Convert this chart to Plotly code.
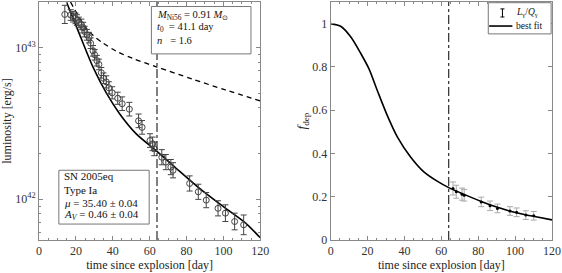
import numpy as np
import plotly.graph_objects as go

# ---------------- data ----------------
# left panel: observed bolometric luminosity (log10 erg/s)
t_obs = [14.0, 17.2, 18.5, 19.8, 20.6, 21.6, 23.0, 23.9, 24.8, 26.0, 27.1, 28.0,
         29.3, 30.2, 31.4, 32.5, 33.8, 35.0, 36.5, 37.9, 39.7, 42.7, 45.1, 49.0,
         54.0, 55.9, 60.2, 61.6, 62.5, 66.6, 68.8, 71.5, 72.7, 81.7, 86.4, 90.7,
         97.1, 101.1, 106.1, 111.0]
logL_obs = [43.218, 43.214, 43.203, 43.192, 43.181, 43.165, 43.152, 43.131, 43.105,
            43.083, 43.065, 43.028, 42.978, 42.952, 42.913, 42.888, 42.833, 42.797,
            42.773, 42.734, 42.701, 42.665, 42.629, 42.593, 42.516, 42.473, 42.386,
            42.364, 42.331, 42.276, 42.244, 42.211, 42.190, 42.103, 42.048, 41.993,
            41.939, 41.907, 41.852, 41.830]
logL_err = [0.06, 0.035, 0.035, 0.035, 0.035, 0.035, 0.035, 0.035, 0.035, 0.035,
            0.035, 0.035, 0.035, 0.035, 0.035, 0.035, 0.035, 0.035, 0.04, 0.04,
            0.04, 0.04, 0.045, 0.045, 0.045, 0.045, 0.045, 0.045, 0.045, 0.05,
            0.05, 0.05, 0.05, 0.05, 0.05, 0.05, 0.05, 0.055, 0.055, 0.065]

# left panel: best-fit luminosity (solid) and total deposition Q (dashed)
t_fit = [14.9, 22.1, 29.3, 36.5, 43.6, 52.6, 64.0, 74.2, 86.7, 101.1, 111.9, 120.0]
logL_fit = [43.30, 43.083, 42.870, 42.700, 42.565, 42.432, 42.315, 42.205, 42.074,
            41.940, 41.843, 41.745]
t_q = [17.1, 24.8, 29.3, 34.6, 41.9, 50.8, 64.0, 83.1, 101.1, 120.0]
logL_q = [43.30, 43.14, 43.08, 43.03, 42.975, 42.928, 42.871, 42.792, 42.720, 42.648]

# right panel: deposition fraction
t_fdep = [66.3, 68.1, 71.2, 72.4, 81.6, 86.4, 90.4, 97.2, 100.8, 105.8, 110.1]
fdep = [0.238, 0.223, 0.212, 0.207, 0.176, 0.158, 0.146, 0.134, 0.128, 0.115, 0.112]
fdep_err = [0.03, 0.03, 0.028, 0.027, 0.022, 0.022, 0.02, 0.02, 0.02, 0.02, 0.02]
t_fcurve = [0, 5.6, 10.9, 16.3, 20.8, 25.3, 30.7, 36.1, 43.3, 50.5, 57.7, 64.0,
            72.0, 82.0, 90.0, 97.0, 105.0, 112.0, 120.0]
fcurve = [1.0, 0.987, 0.938, 0.862, 0.790, 0.690, 0.575, 0.477, 0.384, 0.315, 0.272,
          0.242, 0.212, 0.177, 0.152, 0.134, 0.118, 0.106, 0.093]

t_cut = 64.0

param_lines = ["<i>M</i><sub>Ni56</sub> = 0.91 <i>M</i><sub>⊙</sub>",
               "<i>t</i><sub>0</sub>  = 41.1 day",
               "<i>n</i>   = 1.6"]
info_lines = ["SN 2005eq", "Type Ia",
              "<i>μ</i> = 35.40 ± 0.04",
              "<i>A<sub>V</sub></i> = 0.46 ± 0.04"]
legend_names = ["<i>L</i><sub>γ</sub>/<i>Q</i><sub>γ</sub>", "best fit"]

# ---------------- figure ----------------
FONT = "Liberation Serif"
L = 10 ** np.array(logL_obs)
e = np.array(logL_err)

fig = go.Figure()

fig.add_trace(go.Scatter(
    x=t_q, y=10 ** np.array(logL_q), mode="lines", line_shape="spline",
    line=dict(color="black", width=1.3, dash="5px,4px", smoothing=0.8), showlegend=False,
    xaxis="x", yaxis="y"))
fig.add_trace(go.Scatter(
    x=t_fit, y=10 ** np.array(logL_fit), mode="lines", line_shape="spline",
    line=dict(color="black", width=1.6, smoothing=0.8), showlegend=False,
    xaxis="x", yaxis="y"))
fig.add_trace(go.Scatter(
    x=t_obs, y=L, mode="markers",
    marker=dict(symbol="circle-open", size=6, color="#444", line=dict(width=1)),
    error_y=dict(type="data", symmetric=False, array=L * (10 ** e - 1),
                 arrayminus=L * (1 - 10 ** (-e)), color="#444", thickness=1, width=3),
    showlegend=False, xaxis="x", yaxis="y"))

# right panel
fig.add_trace(go.Scatter(
    x=t_fdep, y=fdep, mode="markers",
    marker=dict(symbol="circle", size=3, color="black"),
    error_y=dict(type="data", array=fdep_err, color="#aaa", thickness=1, width=3),
    name=legend_names[0], showlegend=False, xaxis="x2", yaxis="y2"))
fig.add_trace(go.Scatter(
    x=t_fcurve, y=fcurve, mode="lines", line_shape="spline",
    line=dict(color="black", width=1.6, smoothing=0.8), name=legend_names[1],
    showlegend=False, xaxis="x2", yaxis="y2"))

axis_common = dict(showline=True, linecolor="#888", linewidth=1, mirror="ticks",
                   ticks="inside", ticklen=4, tickcolor="#888", showgrid=False,
                   zeroline=False, tickfont=dict(family=FONT, size=12, color="#333"))

minor_log = [float(m) * 10.0 ** p for p in (41, 42, 43) for m in range(2, 10)]
xticks = [0, 20, 40, 60, 80, 100, 120]
title_font = dict(family=FONT, size=12, color="#222")
fig.update_layout(
    width=562, height=273,
    margin=dict(l=39, r=6, t=1, b=33),
    paper_bgcolor="white", plot_bgcolor="white",
    font=dict(family=FONT, size=12, color="#222"),
    showlegend=False,
    xaxis=dict(domain=[0, 0.4313], range=[0, 120], tickvals=xticks,
               minor=dict(dtick=5, ticks="inside", ticklen=2, tickcolor="#888"),
               title=dict(text="time since explosion [day]", standoff=3, font=title_font),
               **axis_common),
    yaxis=dict(type="log", range=[41.73, 43.30], tickvals=[1e42, 1e43],
               ticktext=["10<sup>42</sup>", "10<sup>43</sup>"],
               minor=dict(tickvals=minor_log, ticks="inside", ticklen=2, tickcolor="#888"),
               title=dict(text="luminosity [erg/s]", standoff=2, font=title_font),
               **axis_common),
    xaxis2=dict(domain=[0.5687, 1], range=[0, 120], tickvals=xticks, anchor="y2",
                minor=dict(dtick=5, ticks="inside", ticklen=2, tickcolor="#888"),
                title=dict(text="time since explosion [day]", standoff=3, font=title_font),
                **axis_common),
    yaxis2=dict(range=[0, 1.1], tickvals=[0, 0.2, 0.4, 0.6, 0.8, 1],
                ticktext=["0", "0.2", "0.4", "0.6", "0.8", "1"], anchor="x2",
                title=dict(text="<i>f</i><sub>dep</sub>", standoff=2,
                           font=dict(family=FONT, size=13, color="#222")),
                **axis_common),
)

# vertical dash-dot lines
for xr, yr in (("x", "y domain"), ("x2", "y2 domain")):
    fig.add_shape(type="line", xref=xr, yref=yr, x0=t_cut, x1=t_cut, y0=0, y1=1,
                  line=dict(color="black", width=1, dash="dashdot"))

# parameter box (top right of left panel)
fig.add_shape(type="rect", xref="x domain", yref="y domain",
              x0=0.508, x1=0.958, y0=0.782, y1=0.981,
              line=dict(color="#777", width=1), fillcolor="white", layer="above")
for txt, yy in zip(param_lines, [0.944, 0.891, 0.840]):
    fig.add_annotation(xref="x domain", yref="y domain", x=0.526, y=yy,
                       text=txt, showarrow=False, xanchor="left", yanchor="middle",
                       font=dict(family=FONT, size=10.5, color="#111"))

# SN info box (bottom left of left panel)
fig.add_shape(type="rect", xref="x domain", yref="y domain",
              x0=0.0897, x1=0.498, y0=0.067, y1=0.293,
              line=dict(color="#777", width=1), fillcolor="white", layer="above")
for txt, yy in zip(info_lines, [0.268, 0.212, 0.156, 0.106]):
    fig.add_annotation(xref="x domain", yref="y domain", x=0.105, y=yy,
                       text=txt, showarrow=False, xanchor="left", yanchor="middle",
                       font=dict(family=FONT, size=11, color="#111"))

# legend of the right panel
fig.add_shape(type="rect", xref="x2 domain", yref="y2 domain",
              x0=0.712, x1=0.996, y0=0.866, y1=0.997,
              line=dict(color="#777", width=1), fillcolor="white", layer="above")
fig.add_shape(type="line", xref="x2 domain", yref="y2 domain",
              x0=0.776, x1=0.776, y0=0.937, y1=0.971,
              line=dict(color="black", width=1), layer="above")
for yy in (0.937, 0.971):
    fig.add_shape(type="line", xref="x2 domain", yref="y2 domain",
                  x0=0.767, x1=0.785, y0=yy, y1=yy,
                  line=dict(color="black", width=1), layer="above")
fig.add_shape(type="line", xref="x2 domain", yref="y2 domain",
              x0=0.716, x1=0.821, y0=0.899, y1=0.899,
              line=dict(color="black", width=1.6), layer="above")
for txt, yy in zip(legend_names, [0.956, 0.899]):
    fig.add_annotation(xref="x2 domain", yref="y2 domain", x=0.826, y=yy,
                       text=txt, showarrow=False, xanchor="left", yanchor="middle",
                       font=dict(family=FONT, size=9.5, color="#111"))

fig.write_html("out.html", config={"displayModeBar": False},
               post_script="document.body.style.margin='0px';")
